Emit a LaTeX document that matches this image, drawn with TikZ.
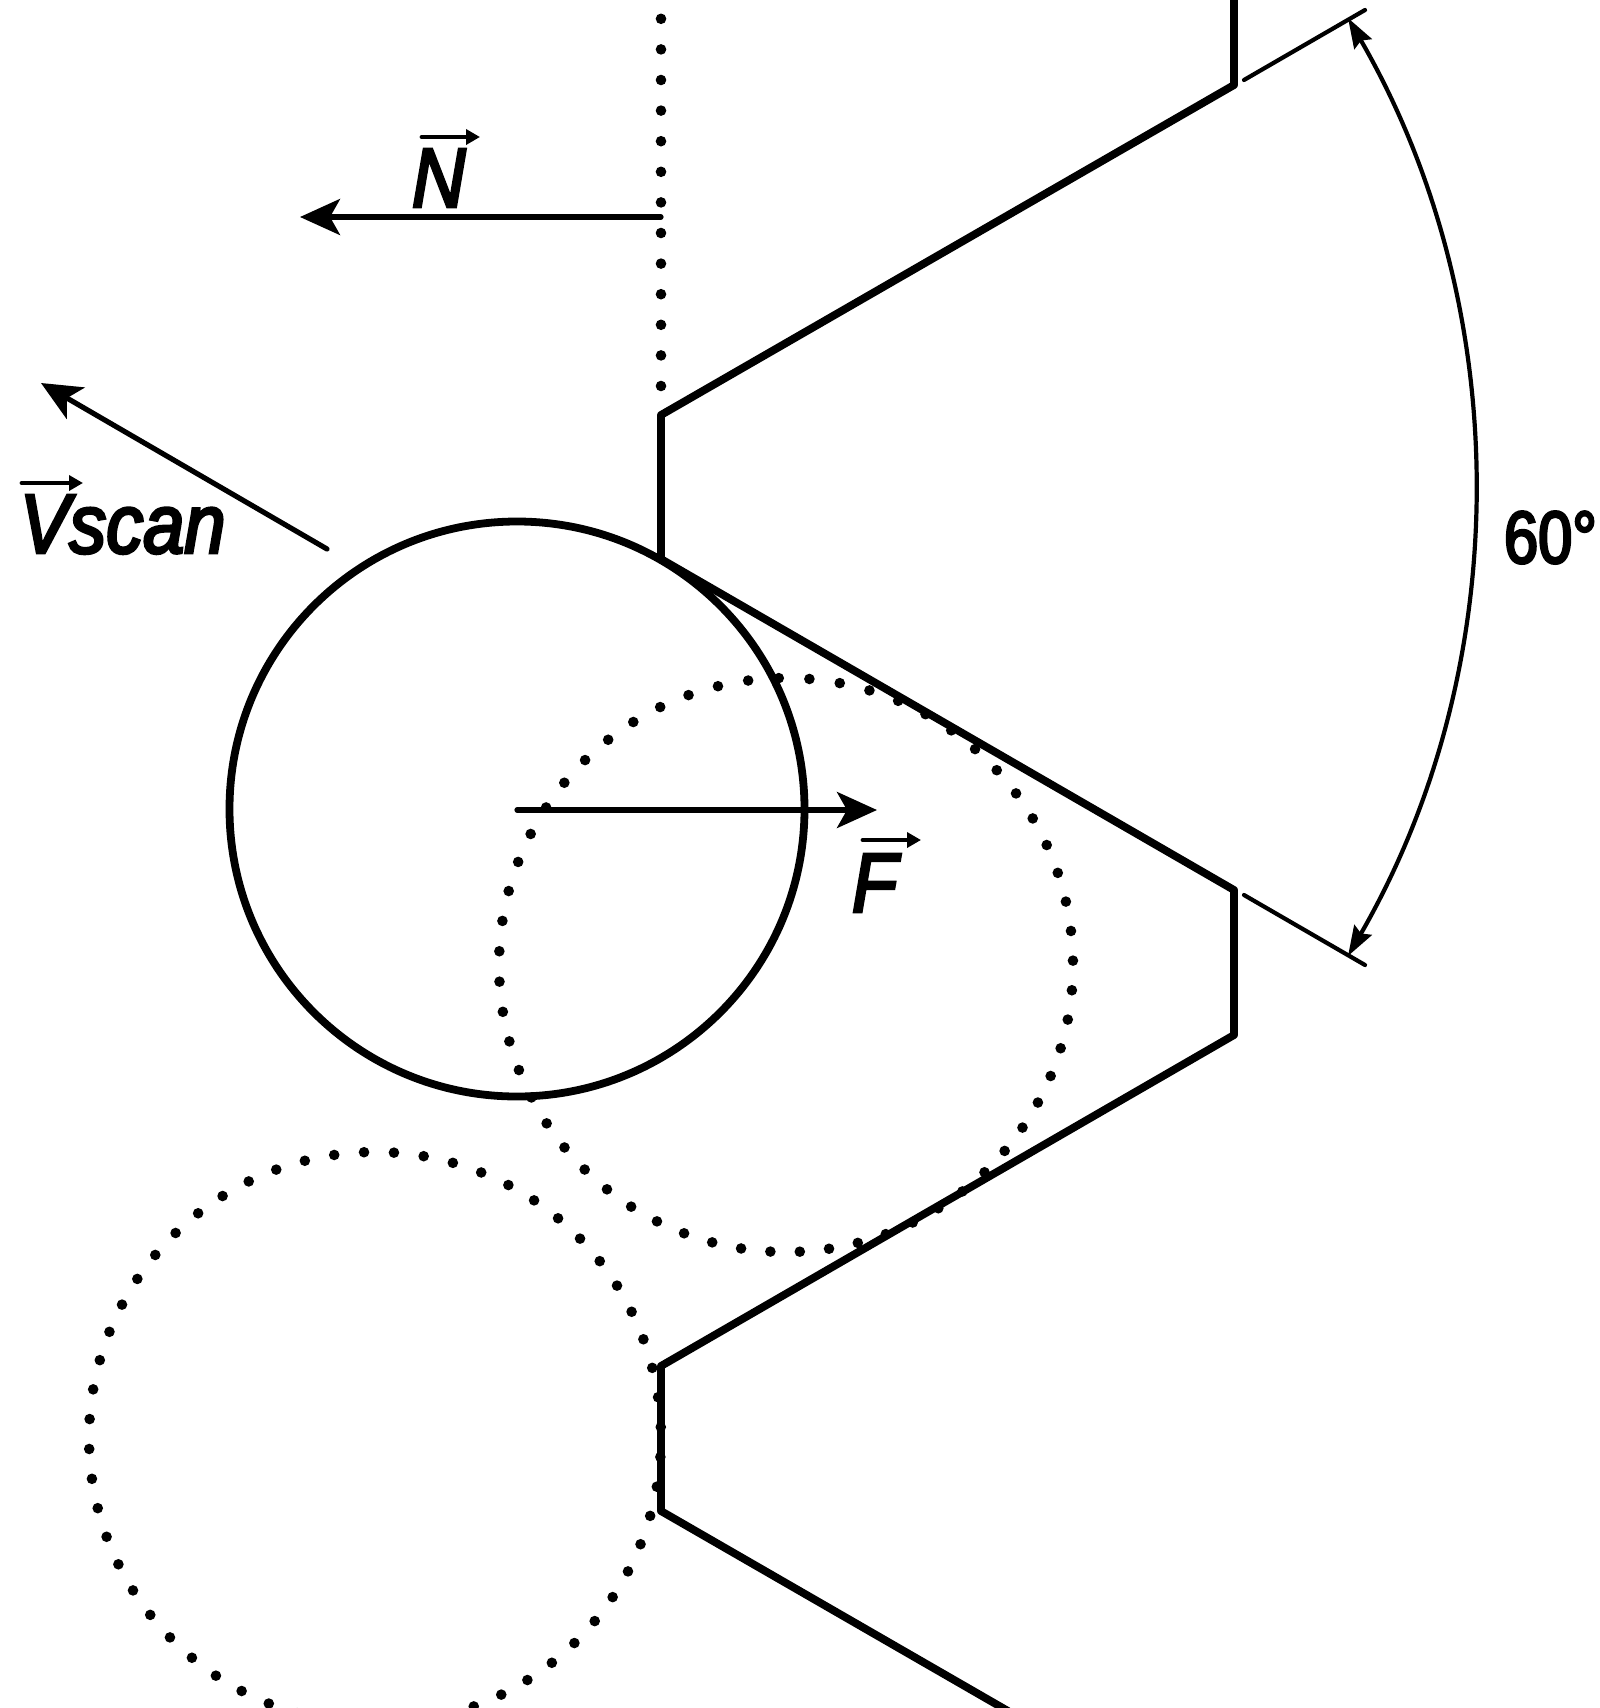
\documentclass[tikz,border=0pt]{standalone}
\usepackage{fontspec}
\usetikzlibrary{arrows.meta,calc}
\setmainfont{Liberation Sans}
\newfontfamily\labit[FakeStretch=0.88,FakeBold=3.5]{Liberation Sans Italic}
\newfontfamily\labup[FakeStretch=0.83,FakeBold=3.5]{Liberation Sans}
\tikzset{
  thick line/.style={line width=3.9pt,line join=round,line cap=round},
  mid line/.style={line width=2.6pt,line cap=round},
  thin line/.style={line width=2.1pt,line cap=round},
  dotmark/.style={fill=black},
  bigtip/.style={-{Stealth[length=20pt,width=18pt,inset=5pt]}},
  arctip/.style={{Stealth[length=15pt,width=10pt,inset=2pt]}-{Stealth[length=15pt,width=10pt,inset=2pt]}},
  overarrow/.style={line width=2.4pt,line cap=round,-{Stealth[length=7pt,width=7.5pt,inset=0pt]}},
  lab/.style={inner sep=0pt,outer sep=0pt,anchor=base west,font=\labit\fontsize{42pt}{42pt}\selectfont},
  labu/.style={inner sep=0pt,outer sep=0pt,anchor=base west,font=\labup\fontsize{37pt}{37pt}\selectfont}
}
\begin{document}
\begin{tikzpicture}[x=0.5pt,y=-0.5pt]
\useasboundingbox (0,0) rectangle (1600,1708);
\clip (0,0) rectangle (1600,1708);
\fill[white] (0,0) rectangle (1600,1708);
% sawtooth
\draw[thick line] (1234,-10) -- (1234,85) -- (661,415) -- (661,559) -- (1234,890) -- (1234,1035) -- (661,1366) -- (661,1511) -- (1008,1711);
% main circle
\coordinate (c1) at (517,809);
\draw[thick line] (c1) circle[radius=287.5];
% dotted circles
\foreach \k in {0,...,59}{
  \pgfmathsetmacro{\aa}{3.9+6*\k}
  \pgfmathsetmacro{\ab}{\aa+1.2*cos(\aa)-0.7*sin(\aa)}
  \fill[dotmark] ($(786,965)+(\ab:287 and 287)$) circle[radius=5.3];
  \fill[dotmark] ($(375,1438)+({3.8+6*\k}:286 and 286)$) circle[radius=5.3];
}
% dotted vertical
\foreach \k in {0,...,12}{
  \fill[dotmark] (661,{386-30.6*\k}) circle[radius=5.3];
}
% force arrows
\coordinate (nA) at (661,217); \coordinate (nB) at (300,217);
\draw[mid line,bigtip] (nA) -- (nB);
\coordinate (vA) at (327,549); \coordinate (vB) at (41,383);
\draw[mid line,bigtip] (vA) -- (vB);
\coordinate (fB) at (877,810);
\draw[mid line,bigtip] (517,810) -- (fB);
% angle dimension
\draw[thin line] (1244,80) -- (1365,10);
\draw[thin line] (1244,895) -- (1365,965);
\draw[thin line,arctip] (1348,18) arc[start angle=-30,end angle=30,radius=938];
% labels
\node[lab] (N) at (412,207) {N};
\node[lab] (V) at (20,553) {Vscan};
\node[lab] (F) at (852,912) {F};
\node[labu] (A) at (1504,563) {60°};
\draw[overarrow] (422,137) -- (480,137);
\draw[overarrow] (22,483) -- (83,483);
\draw[overarrow] (863,840) -- (921,840);
\end{tikzpicture}
\end{document}
